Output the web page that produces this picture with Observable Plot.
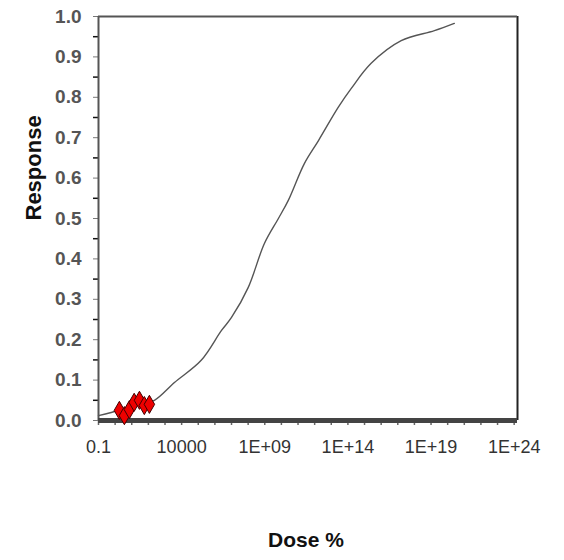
<!DOCTYPE html>
<html>
<head>
<meta charset="utf-8">
<script src="https://cdn.jsdelivr.net/npm/d3@7"></script>
<script src="https://cdn.jsdelivr.net/npm/@observablehq/plot@0.6"></script>
<style>
  html, body { margin: 0; padding: 0; background: #fff; overflow: hidden; }
  #chart svg { display: block; }
</style>
</head>
<body>
<div id="chart"></div>
<script>
// Fitted dose–response curve (dose %, response)
const curveDose = [0.1, 2, 30, 230, 3700, 1.5e5, 2.5e6, 1e7, 1e8, 9.5e8, 6.6e9, 2.6e10, 2.4e11, 1.7e12, 2.6e13, 1.6e14, 2.5e15, 1.6e17, 1.6e19, 2.5e20];
const curveResp = [0.012, 0.026, 0.04, 0.05, 0.094, 0.149, 0.223, 0.255, 0.329, 0.438, 0.5, 0.545, 0.636, 0.693, 0.775, 0.822, 0.884, 0.94, 0.965, 0.983];

// Observed data points
const obsDose = [1.8, 3.6, 7.2, 14, 29, 57, 115];
const obsResp = [0.025, 0.012, 0.027, 0.045, 0.05, 0.037, 0.04];

// Axis ticks
const xTickValues = [0.1, 1e4, 1e9, 1e14, 1e19, 1e24];
const xTickLabels = ["0.1", "10000", "1E+09", "1E+14", "1E+19", "1E+24"];
const yTickValues = [0, 0.1, 0.2, 0.3, 0.4, 0.5, 0.6, 0.7, 0.8, 0.9, 1.0];
const yMinorTicks = [0.05, 0.15, 0.25, 0.35, 0.45, 0.55, 0.65, 0.75, 0.85, 0.95];
const xMinorTicks = d3.range(-1, 25).map(e => Math.pow(10, e));

const curve = curveDose.map((d, i) => ({dose: d, resp: curveResp[i]}));
const obs = obsDose.map((d, i) => ({dose: d, resp: obsResp[i]}));
const xMax = Math.pow(10, 24.2);

function xLabel(d) {
  let best = 0, bestDist = Infinity;
  xTickValues.forEach((v, i) => {
    const dist = Math.abs(Math.log10(v) - Math.log10(d));
    if (dist < bestDist) { bestDist = dist; best = i; }
  });
  return xTickLabels[best];
}

const plot = Plot.plot({
  width: 564,
  height: 560,
  marginTop: 16,
  marginBottom: 140,
  marginLeft: 98,
  marginRight: 47,
  style: {fontFamily: "'Liberation Sans', Arial, sans-serif", background: "#fff"},
  x: {type: "log", domain: [0.1, xMax]},
  y: {domain: [0, 1]},
  marks: [
    // minor ticks
    Plot.axisY({ticks: yMinorTicks, tickSize: 5, text: null, stroke: "#111", strokeWidth: 1.5, label: null}),
    Plot.axisX({ticks: xMinorTicks, tickSize: 5, text: null, stroke: "#666", strokeWidth: 1.5, label: null}),
    // major ticks and labels
    Plot.axisY({
      ticks: yTickValues, tickSize: 5, tickPadding: 12,
      tickFormat: d3.format(".1f"),
      fontSize: 19, fontWeight: "bold", fill: "#555", stroke: "#777",
      label: null
    }),
    Plot.axisX({
      ticks: xTickValues, tickSize: 0, tickPadding: 20,
      tickFormat: xLabel,
      fontSize: 18, fontWeight: "normal", fill: "#333", stroke: "#888", strokeWidth: 0.4,
      label: null
    }),
    // frame lines
    Plot.ruleX([0.1], {stroke: "#555", strokeWidth: 2}),
    Plot.ruleX([xMax], {stroke: "#222", strokeWidth: 2}),
    Plot.ruleY([1], {stroke: "#555", strokeWidth: 2}),
    Plot.ruleY([0], {stroke: "#444", strokeWidth: 5}),
    // curve and points
    Plot.line(curve, {x: "dose", y: "resp", stroke: "#555", strokeWidth: 1.4, curve: "catmull-rom"}),
    Plot.dot(obs, {x: "dose", y: "resp", symbol: "diamond", r: 5.5, fill: "#ee0000", stroke: "#400", strokeWidth: 1}),
    // axis titles
    Plot.text(["Response"], {frameAnchor: "left", dx: -65, dy: 2, rotate: -90, text: d => d, fontSize: 22, fontWeight: "bold", fill: "#111"}),
    Plot.text(["Dose %"], {frameAnchor: "bottom", dy: 126, dx: -2, text: d => d, fontSize: 21, fontWeight: "bold", fill: "#111"})
  ]
});

document.getElementById("chart").appendChild(plot);
</script>
</body>
</html>
